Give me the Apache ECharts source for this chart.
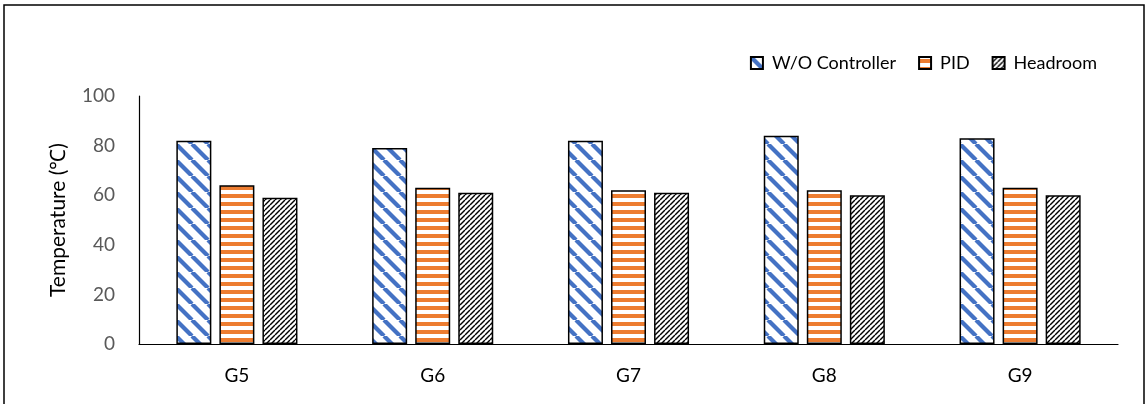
<!DOCTYPE html>
<html>
<head>
<meta charset="utf-8">
<script src="https://cdn.jsdelivr.net/npm/echarts@6/dist/echarts.min.js"></script>
<style>
  html, body { margin: 0; padding: 0; background: #fff; }
  #chart { width: 1148px; height: 404px; }
</style>
</head>
<body>
<div id="chart"></div>
<script>
// Peak GPU temperatures per node, three control strategies
const categories = ['G5', 'G6', 'G7', 'G8', 'G9'];
const seriesNames = ['W/O Controller', 'PID', 'Headroom'];
const noController = [82, 79, 82, 84, 83];
const pidValues = [64, 63, 62, 62, 63];
const headroomValues = [59, 61, 61, 60, 60];
const yTicks = { min: 0, max: 100, interval: 20 };

// Hatch fills drawn on small repeating tiles
function hatch(size, draw) {
  const c = document.createElement('canvas');
  c.width = size; c.height = size;
  const ctx = c.getContext('2d');
  ctx.fillStyle = '#ffffff';
  ctx.fillRect(0, 0, size, size);
  draw(ctx, size);
  return { image: c, repeat: 'repeat' };
}

const blueStripes = hatch(16, (ctx, s) => {
  ctx.strokeStyle = '#4472C4';
  ctx.lineWidth = 4.2;
  for (let k = -1; k <= 1; k++) {
    ctx.beginPath();
    ctx.moveTo(k * s, 0);
    ctx.lineTo(k * s + s, s);
    ctx.stroke();
  }
});

const orangeStripes = hatch(8, (ctx, s) => {
  ctx.fillStyle = '#ED7D31';
  ctx.fillRect(0, 2, s, 4);
});

const blackHatch = hatch(5, (ctx, s) => {
  ctx.strokeStyle = '#000000';
  ctx.lineWidth = 1.4;
  for (let k = -1; k <= 1; k++) {
    ctx.beginPath();
    ctx.moveTo(k * s, s);
    ctx.lineTo(k * s + s, 0);
    ctx.stroke();
  }
});

const fills = [blueStripes, orangeStripes, blackHatch];
const dataSets = [noController, pidValues, headroomValues];

const chart = echarts.init(document.getElementById('chart'), null, { renderer: 'canvas' });

const font = 'Lato, "Open Sans", sans-serif';

chart.setOption({
  animation: false,
  backgroundColor: '#ffffff',
  graphic: [{
    type: 'rect',
    shape: { x: 4, y: 5, width: 1140, height: 420 },
    style: { fill: 'none', stroke: '#000000', lineWidth: 1.5 },
    silent: true
  }],
  grid: { left: 139, right: 30, top: 96, bottom: 60 },
  legend: {
    right: 46,
    top: 49,
    itemWidth: 12,
    itemHeight: 12,
    itemGap: 22,
    icon: 'rect',
    textStyle: { fontFamily: font, fontSize: 18, color: '#000000', padding: [0, 0, 0, 4] },
    data: seriesNames
  },
  xAxis: {
    type: 'category',
    data: categories,
    axisLine: { lineStyle: { color: '#000000', width: 1.2 } },
    axisTick: { show: false },
    axisLabel: { fontFamily: font, fontSize: 19, color: '#000000', margin: 22 }
  },
  yAxis: {
    type: 'value',
    min: yTicks.min,
    max: yTicks.max,
    interval: yTicks.interval,
    name: 'Temperature (℃)',
    nameLocation: 'middle',
    nameGap: 70,
    nameTextStyle: { fontFamily: font, fontSize: 21, color: '#000000' },
    axisLine: { show: true, lineStyle: { color: '#000000', width: 1.2 } },
    axisTick: { show: false },
    splitLine: { show: false },
    axisLabel: { fontFamily: font, fontSize: 19, color: '#595959', margin: 24 }
  },
  series: seriesNames.map((name, i) => ({
    name: name,
    type: 'bar',
    data: dataSets[i],
    barWidth: 35,
    barGap: '23%',
    itemStyle: {
      color: fills[i],
      borderColor: '#000000',
      borderWidth: 1.5
    }
  }))
});
</script>
</body>
</html>
